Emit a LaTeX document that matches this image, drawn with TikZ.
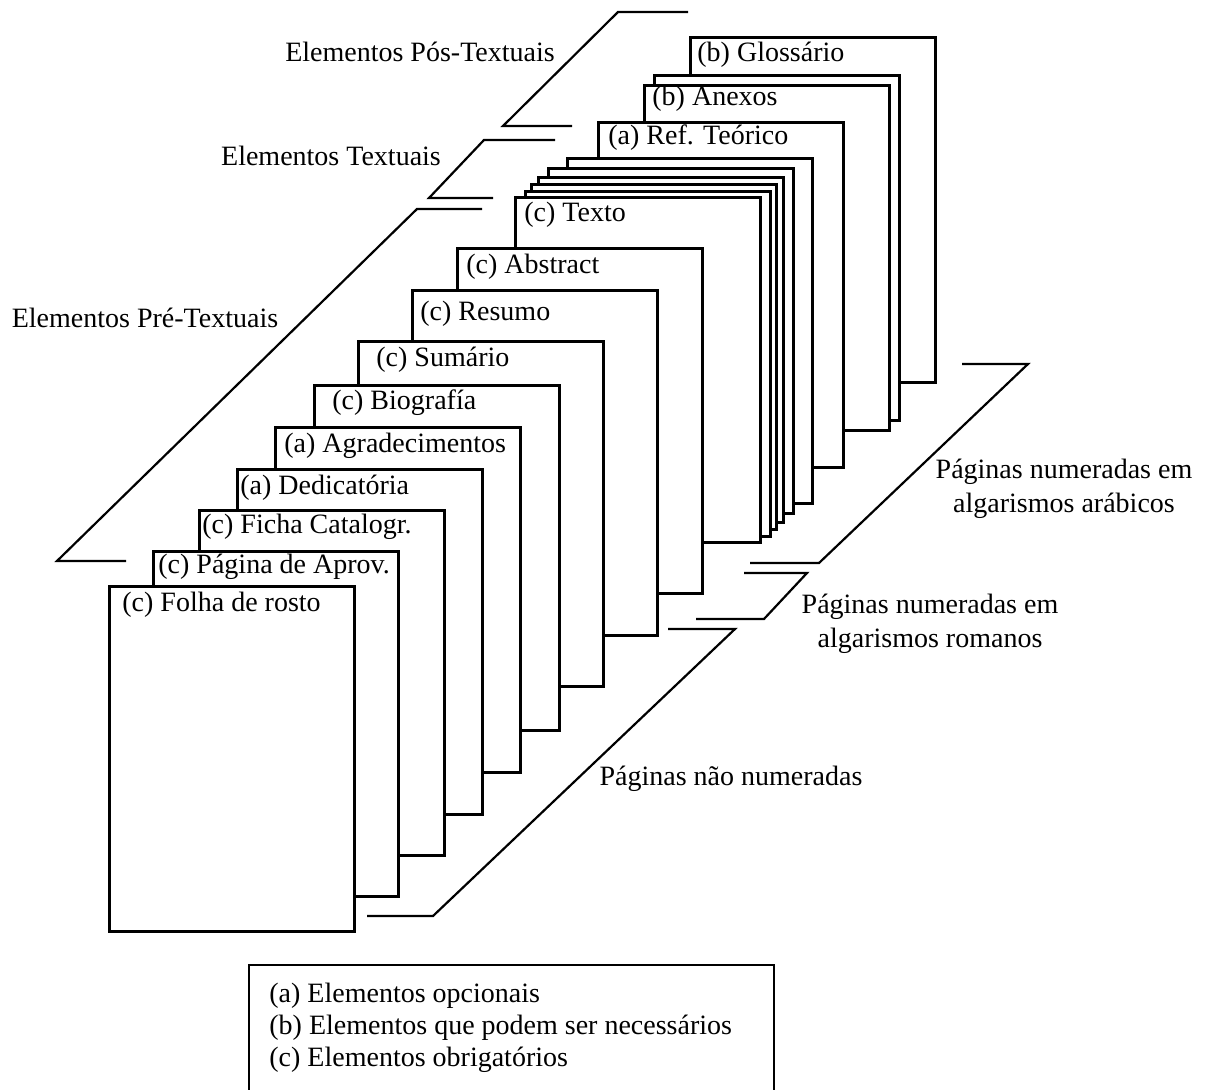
\documentclass[tikz,border=0pt]{standalone}
\usepackage{fontspec}
\setmainfont{Liberation Serif}

\tikzset{
  sheetbox/.style={draw, fill=white, line width=1.3pt, anchor=north west,
    minimum width=122.5pt, minimum height=172.5pt, inner sep=0pt},
  sheetlabel/.style={anchor=west, inner sep=0pt,
    font=\fontsize{14pt}{16pt}\selectfont},
  sidelabel/.style={align=center, inner sep=0pt,
    font=\fontsize{14pt}{17pt}\selectfont},
  bracket/.style={line width=1.1pt},
}

% one page of the stack: name, x, y, label dx, label dy, label
\newcommand{\pageSheet}[6]{%
  \node[sheetbox] (#1) at (#2, #3) {};
  \node[sheetlabel] (#1-txt)
    at ([xshift=#4*0.5pt, yshift=-#5*0.5pt]#1.north west) {#6};
}

\begin{document}
\begin{tikzpicture}[x=0.5pt, y=-0.5pt]
  \useasboundingbox (0,0) rectangle (1205,1090);

  % pages, from the back to the front
  \pageSheet{gloss}{689}{36}{8}{19}{(b) Glossário}
  \node[sheetbox] (anexB) at (653,74) {};
  \pageSheet{anexos}{643}{84}{9}{15}{(b) Anexos}
  \pageSheet{ref}{597}{121}{11}{17}{(a) Ref. Teórico}
  \node[sheetbox] (stackE) at (566,157) {};
  \node[sheetbox] (stackD) at (547,167) {};
  \node[sheetbox] (stackC) at (537,176) {};
  \node[sheetbox] (stackB) at (530,183) {};
  \node[sheetbox] (stackA) at (524,190) {};
  \pageSheet{texto}{514}{196}{10}{19}{(c) Texto}
  \pageSheet{abstract}{456}{247}{10}{20}{(c) Abstract}
  \pageSheet{resumo}{411}{289}{9}{25}{(c) Resumo}
  \pageSheet{sumario}{357}{340}{19}{20}{(c) Sumário}
  \pageSheet{biog}{313}{384}{19}{19}{(c) Biografía}
  \pageSheet{agrad}{274}{426}{10}{20}{(a) Agradecimentos}
  \pageSheet{dedic}{236}{468}{4}{20}{(a) Dedicatória}
  \pageSheet{ficha}{198}{509}{4}{18}{(c) Ficha Catalogr.}
  \pageSheet{aprov}{152}{550}{6}{17}{(c) Página de Aprov.}
  \pageSheet{folha}{108}{585}{14}{20}{(c) Folha de rosto}

  % section brackets on the left
  \draw[bracket] (688,12) -- (618,12) -- (503,126) -- (572,126);
  \draw[bracket] (555,140) -- (484,140) -- (429,198) -- (493,198);
  \draw[bracket] (482,209) -- (417,209) -- (57,561) -- (126,561);
  \node[sidelabel] (posT) at (420,52) {Elementos Pós-Textuais};
  \node[sidelabel] (textT) at (331,156) {Elementos Textuais};
  \node[sidelabel] (preT) at (145,318) {Elementos Pré-Textuais};

  % numbering brackets on the right
  \draw[bracket] (962,364) -- (1028,364) -- (819,563) -- (750,563);
  \draw[bracket] (744,573) -- (807,573) -- (764,619) -- (696,619);
  \draw[bracket] (668,629) -- (735,629) -- (433,916) -- (367,916);
  \node[sidelabel] (arab) at (1064,489) {Páginas numeradas em\\algarismos arábicos};
  \node[sidelabel] (roman) at (930,624) {Páginas numeradas em\\algarismos romanos};
  \node[sidelabel] (none) at (731,779) {Páginas não numeradas};

  % legend, cut off at the bottom
  \node[anchor=north west, minimum width=262pt, minimum height=62.5pt,
        inner sep=0pt] (legend) at (249,965) {};
  \draw[line width=1.3pt] (legend.south west) -- (legend.north west)
    -- (legend.north east) -- (legend.south east);
  \node[anchor=west, align=left, inner sep=0pt, xshift=10pt,
        font=\fontsize{14pt}{16pt}\selectfont] (legendtxt) at (legend.west)
    {(a) Elementos opcionais\\(b) Elementos que podem ser necessários\\(c) Elementos obrigatórios};
\end{tikzpicture}
\end{document}
